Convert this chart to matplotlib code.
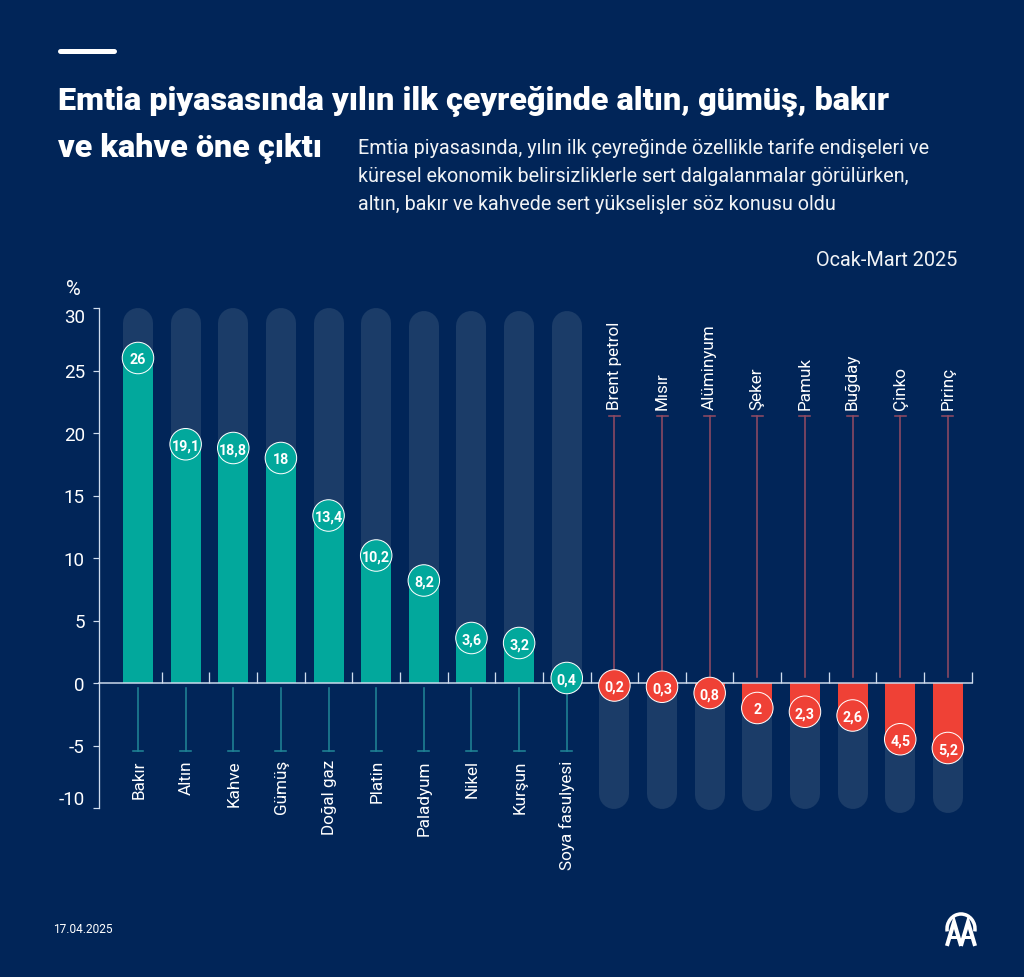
import matplotlib
matplotlib.use("Agg")
import matplotlib.pyplot as plt
from matplotlib.patches import Rectangle, Arc

plt.rcParams['font.family'] = ['Roboto', 'DejaVu Sans']

# ---- data ----
categories = ["Bakır", "Altın", "Kahve", "Gümüş", "Doğal gaz", "Platin", "Paladyum", "Nikel", "Kurşun",
              "Soya fasulyesi", "Brent petrol", "Mısır", "Alüminyum", "Şeker", "Pamuk", "Buğday", "Çinko", "Pirinç"]
values = [26, 19.1, 18.8, 18, 13.4, 10.2, 8.2, 3.6, 3.2, 0.4,
          -0.2, -0.3, -0.8, -2, -2.3, -2.6, -4.5, -5.2]
value_labels = ["26", "19,1", "18,8", "18", "13,4", "10,2", "8,2", "3,6", "3,2", "0,4",
                "0,2", "0,3", "0,8", "2", "2,3", "2,6", "4,5", "5,2"]
y_ticks = [-10, -5, 0, 5, 10, 15, 20, 25, 30]
# far end of each pale background track (axis units)
track_ends = [30, 30, 30, 30, 30, 30, 29.75, 29.75, 29.75, 29.75,
              -10.05, -10.05, -10.15, -10.2, -10.05, -10.05, -10.4, -10.4]

title_lines = ["Emtia piyasasında yılın ilk çeyreğinde altın, gümüş, bakır", "ve kahve öne çıktı"]
sub_lines = ["Emtia piyasasında, yılın ilk çeyreğinde özellikle tarife endişeleri ve",
             "küresel ekonomik belirsizliklerle sert dalgalanmalar görülürken,",
             "altın, bakır ve kahvede sert yükselişler söz konusu oldu"]
period = "Ocak-Mart 2025"
date = "17.04.2025"

# ---- style ----
W, H = 1024, 978
BG = "#012558"
TRACK = "#1b3c68"
TEAL = "#02a89c"
RED = "#ef4136"
TEAL_LINE = "#1f8395"
RED_LINE = "#8f4a62"
AXIS = "#cfdcee"
px = 0.72  # points per pixel at dpi 100

fig = plt.figure(figsize=(W / 100, H / 100), dpi=100, facecolor=BG)


def fx(x):
    return x / W


def fy(y):
    return 1 - y / H


# overlay in pixel coordinates for header rule and logo
ov = fig.add_axes([0, 0, 1, 1], zorder=0)
ov.set_xlim(0, W)
ov.set_ylim(H, 0)
ov.axis("off")
ov.plot([60, 114], [52, 52], color="white", lw=5 * px, solid_capstyle="round")

# AA logo
for ox in (0, 14):
    ov.plot([947.5 + ox, 954 + ox, 960.5 + ox], [945, 923, 945], color="white", lw=4 * px, solid_joinstyle="miter")
    ov.plot([951 + ox, 957 + ox], [938, 938], color="white", lw=3 * px)
ov.add_patch(Arc((961, 930), 28, 30, theta1=170, theta2=370, color="white", lw=3.5 * px))

# main axes
left, right, top, bottom = 98.5, 971.7, 309, 809
ax = fig.add_axes([fx(left), fy(bottom), (right - left) / W, (bottom - top) / H], zorder=1)
ax.patch.set_alpha(0)
ax.set_xlim(-0.829, 17.5)
ax.set_ylim(-10, 30)

unit = (bottom - top) / 40
xs = list(range(len(values)))
bar_px = 30

for x, v, end in zip(xs, values, track_ends):
    sign = 1 if v > 0 else -1
    line, = ax.plot([x, x], [0, end - sign * (bar_px / 2) / unit], color=TRACK, lw=bar_px * px,
                    solid_capstyle="round", zorder=1)
    clip = Rectangle((x - 1, 0 if v > 0 else -15), 2, 50 if v > 0 else 15, transform=ax.transData)
    line.set_clip_path(clip)

ax.bar(xs, values, width=bar_px / 47.65, color=[TEAL if v > 0 else RED for v in values], zorder=2)

# connectors with T caps
for x, v, name in zip(xs, values, categories):
    if v > 0:
        ax.plot([x, x], [-0.4, -5.4], color=TEAL_LINE, lw=1.6 * px, zorder=1.5)
        ax.plot([x - 0.115, x + 0.115], [-5.4, -5.4], color=TEAL_LINE, lw=1.6 * px, zorder=1.5)
        ax.text(x + 0.015, -6.1, name, rotation=90, ha="center", va="top", color="white", fontsize=12.3,
                clip_on=False)
    else:
        ax.plot([x, x], [0.5, 21.4], color=RED_LINE, lw=1.6 * px, zorder=1.5)
        ax.plot([x - 0.115, x + 0.115], [21.4, 21.4], color=RED_LINE, lw=1.6 * px, zorder=1.5)
        ax.text(x, 21.95, name, rotation=90, ha="center", va="bottom", color="white", fontsize=12.3,
                clip_on=False)

ax.scatter(xs, values, s=(31.5 * px) ** 2, c=[TEAL if v > 0 else RED for v in values],
           edgecolors="white", linewidths=1.0 * px, zorder=4, clip_on=False)
for x, v, lab in zip(xs, values, value_labels):
    ax.text(x, v, lab, ha="center", va="center_baseline", color="white", fontsize=10.3, fontweight="bold",
            zorder=5, clip_on=False)

# axes styling
for s in ("top", "right"):
    ax.spines[s].set_visible(False)
ax.spines["bottom"].set_position(("data", 0))
ax.spines["bottom"].set_color(AXIS)
ax.spines["left"].set_color(AXIS)
ax.spines["bottom"].set_linewidth(1.5 * px)
ax.spines["left"].set_linewidth(1.3 * px)
ax.spines["bottom"].set_zorder(3)
ax.set_yticks(y_ticks)
ax.set_yticklabels([str(t) for t in y_ticks])
ax.tick_params(axis="y", direction="out", length=6 * px, width=1.2 * px, color=AXIS, labelcolor="white",
               labelsize=13.5, pad=5.5)
ax.set_xticks([x + 0.5 for x in xs])
ax.set_xticklabels([])
ax.tick_params(axis="x", direction="in", length=11 * px, width=1.3 * px, color=AXIS)
# the end labels sit inside the axis range in the reference
for t, lab in zip(y_ticks, ax.get_yticklabels()):
    if t == 30:
        lab.set_verticalalignment("top")
    elif t == -10:
        lab.set_verticalalignment("bottom")

# header texts
fig.text(fx(58), fy(110), title_lines[0], color="white", fontsize=23.35, fontweight="black", va="baseline")
fig.text(fx(58), fy(157), title_lines[1], color="white", fontsize=23.35, fontweight="black", va="baseline")
for line, yb in zip(sub_lines, (154.5, 182, 210)):
    fig.text(fx(358), fy(yb), line, color="white", fontsize=14.25, va="baseline", alpha=0.95)
fig.text(fx(957), fy(266.5), period, color="white", fontsize=14.3, ha="right", va="baseline", alpha=0.95)
fig.text(fx(66), fy(295), "%", color="white", fontsize=14.5, va="baseline")
fig.text(fx(53), fy(933), date, color="white", fontsize=8.6, va="baseline")

fig.savefig("out.png", dpi=100, facecolor=BG)
